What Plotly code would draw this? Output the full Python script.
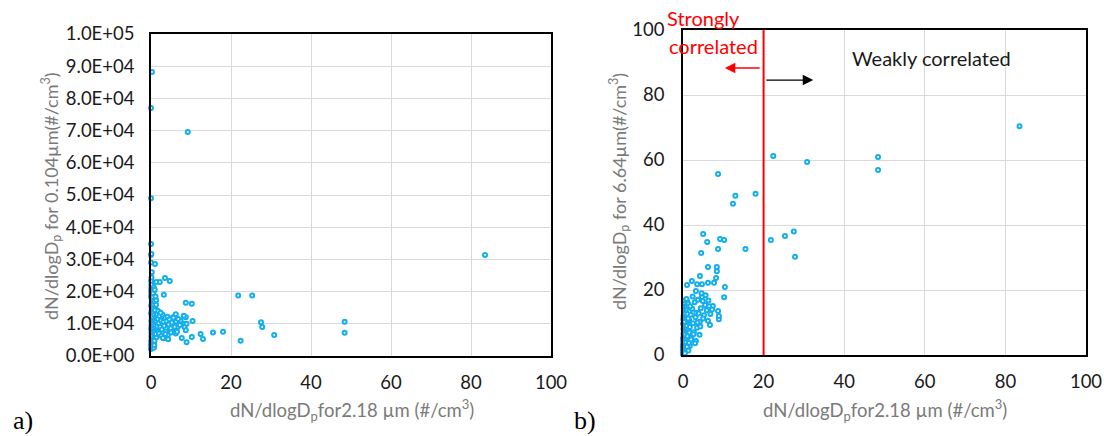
import plotly.graph_objects as go

# ---- data: dN/dlogDp for 2.18 um (shared x), 0.104 um (panel a), 6.64 um (panel b)
x_218 = [
    83.5, 48.4, 48.4, 30.8, 27.5, 27.8, 25.3, 22.4, 21.8, 18.0, 15.5, 12.4, 13.0,
    9.2, 10.2, 8.7, 10.4, 10.2, 7.7, 8.9, 5.0, 6.0, 8.7, 4.5, 6.2, 8.4, 8.4, 4.2,
    8.2, 6.2, 4.7, 3.5, 1.0, 2.2, 3.2, 4.7, 7.4, 6.5, 5.5, 8.7, 8.9, 6.2, 6.7,
    4.2, 3.2, 1.7,
    0.25, 0.00, 0.00, 0.00, 0.00, 0.10, 0.00, 0.20, 1.30,
    0.00, 0.02, 0.05, 0.08, 0.10, 0.03, 0.12, 0.06, 0.15, 0.01, 0.18, 0.04, 0.20,
    0.09, 0.22, 0.07, 0.14, 0.25, 0.11, 0.16, 0.24, 0.19, 0.27, 0.13, 0.29, 0.21,
    0.28, 0.17, 0.26, 0.23, 0.30, 0.02, 0.05, 0.10, 0.08, 0.03, 0.12, 0.06, 0.15,
    0.32, 0.35, 0.38, 0.40, 0.42, 0.45, 0.48, 0.50, 0.52, 0.55, 0.58, 0.60, 0.62,
    0.65, 0.68, 0.70, 0.72, 0.75, 0.78, 0.34, 0.44, 0.54, 0.64, 0.74, 0.36, 0.46,
    0.56, 0.66, 0.76, 0.39, 0.49, 0.59,
    0.82, 0.86, 0.90, 0.95, 1.00, 1.05, 1.10, 1.15, 1.20, 1.25, 1.30, 1.35, 1.40,
    1.45, 1.50, 1.55, 0.88, 0.98, 1.08, 1.18, 1.28, 1.38, 1.48, 1.58, 0.93, 1.12,
    1.7, 1.9, 2.1, 2.3, 2.5, 2.7, 2.9, 3.1, 3.3, 3.5, 3.7, 3.9, 4.1, 4.4, 4.6,
    4.9, 5.2, 5.6, 5.9, 6.3, 6.8, 7.2, 2.0, 2.6, 3.0, 3.6, 4.3, 5.0, 1.8, 2.4,
]
y_0104 = [
    31400, 10600, 7200, 6500, 10500, 9000, 18800, 4700, 18800, 7500, 7300, 6800, 5300,
    69600, 16200, 16500, 10900, 5900, 5600, 4300, 10500, 9500, 12000, 11000, 8000, 10000, 9000, 11500,
    12500, 7000, 23300, 24200, 28600, 23000, 19000, 8500, 11000, 7500, 12000, 8000, 10000, 13000, 9000,
    6500, 5500, 12000,
    88200, 77000, 49000, 34800, 31400, 31700, 29000, 26000, 23000,
    2200, 3500, 4800, 6000, 7200, 8400, 9600, 10800, 12000, 13200, 14400, 15600, 16800,
    18000, 19200, 20400, 21600, 22800, 2800, 4100, 5400, 6600, 7800, 9000, 10200, 11400,
    12600, 13800, 15000, 16200, 17400, 18600, 19800, 21000, 22200, 23400, 24400, 3100, 4500,
    3000, 4200, 5500, 6800, 8000, 9300, 10500, 11700, 12900, 14100, 15300, 16500, 17700,
    18900, 20100, 21300, 2600, 3800, 5000, 6200, 7400, 8700, 9900, 11100, 12300, 13500,
    14700, 15900, 17100, 18300, 19500, 4400,
    3300, 4700, 6100, 7500, 8900, 10300, 11700, 13100, 14500, 15900, 17300, 5800, 7200,
    8600, 10000, 11400, 12800, 14200, 9500, 6800, 12000, 10800, 13000, 9200, 20600, 18500,
    11600, 10200, 12400, 9000, 11000, 8200, 12800, 10600, 9400, 11800, 7600, 10900, 12200, 9800, 11300,
    8600, 10400, 11900, 9100, 10700, 11500, 9600, 7000, 6300, 5600, 6800, 5200, 7300, 14000, 13400,
]
y_664 = [
    70.4, 60.9, 56.9, 59.4, 38.0, 30.2, 36.6, 61.2, 35.4, 49.6, 32.6, 46.5, 49.0,
    35.7, 35.4, 55.7, 20.9, 17.8, 22.2, 11.0, 37.2, 34.8, 32.6, 31.4, 27.1, 27.1, 25.8, 24.3,
    23.7, 22.2, 21.8, 21.8, 21.5, 22.8, 19.7, 17.8, 15.1, 15.0, 15.4, 13.5, 12.0, 10.5, 9.2,
    10.2, 4.3, 2.8,
    1.5, 0.5, 2.0, 3.0, 1.0, 4.0, 2.5, 6.0, 14.0,
    0.3, 0.8, 1.5, 0.6, 2.2, 1.1, 3.0, 0.4, 2.6, 1.8, 4.0, 0.9, 3.4,
    5.0, 1.3, 4.6, 2.0, 5.8, 6.5, 3.8, 7.2, 2.8, 6.0, 8.0, 4.4, 7.6,
    9.0, 5.4, 8.6, 10.0, 6.8, 9.6, 1.0, 3.2, 11.0, 0.2, 2.4, 5.2, 12.0,
    1.2, 4.8, 8.4, 11.4, 13.0, 0.7, 3.6, 7.0, 10.6, 14.0, 2.2, 5.6, 9.2,
    12.4, 15.2, 1.6, 4.2, 7.8, 11.8, 16.0, 6.2, 9.8, 13.6, 2.8, 16.8, 0.5,
    8.8, 4.0, 14.6, 10.2, 6.4, 12.8,
    2.0, 5.0, 8.0, 11.0, 14.0, 16.4, 3.0, 6.6, 9.4, 12.2, 15.6, 1.4, 4.6,
    7.4, 10.8, 13.4, 17.2, 2.5, 5.8, 8.2, 11.2, 14.8, 3.8, 6.9, 9.0, 12.6,
    8.6, 12.4, 5.4, 14.2, 9.8, 7.0, 16.2, 11.6, 13.0, 8.4, 17.0, 12.8, 6.2, 14.4, 19.0,
    16.6, 12.2, 18.4, 13.8, 16.8, 12.6, 14.0, 4.8, 6.4, 3.6, 10.0, 8.8, 11.2, 15.0, 18.0,
]

x_ticks = [0, 20, 40, 60, 80, 100]
ya_ticks = [0, 10000, 20000, 30000, 40000, 50000, 60000, 70000, 80000, 90000, 100000]
ya_ticktext = ["0.0E+00", "1.0E+04", "2.0E+04", "3.0E+04", "4.0E+04", "5.0E+04",
               "6.0E+04", "7.0E+04", "8.0E+04", "9.0E+04", "1.0E+05"]
yb_ticks = [0, 20, 40, 60, 80, 100]
threshold = 20

W, H = 1104, 436
BLUE = "#12AEEE"
GRID = "#D9D9D9"
TICKFONT = dict(family="Lato", size=18.5, color="#1a1a1a")
TITLEFONT = dict(family="Lato", size=18.5, color="#7a7a7a")

marker = dict(symbol="circle", size=4, color="white", line=dict(color=BLUE, width=2))

fig = go.Figure()
fig.add_trace(go.Scatter(x=x_218, y=y_0104, mode="markers", marker=marker,
                         xaxis="x", yaxis="y", cliponaxis=False, showlegend=False))
fig.add_trace(go.Scatter(x=x_218, y=y_664, mode="markers", marker=marker,
                         xaxis="x2", yaxis="y2", cliponaxis=False, showlegend=False))

common = dict(showgrid=True, gridcolor=GRID, gridwidth=1.3, showline=True, mirror=True,
              linecolor="black", linewidth=1.6, zeroline=False, ticks="",
              tickfont=TICKFONT, automargin=False)

fig.update_layout(
    width=W, height=H, autosize=False,
    margin=dict(l=0, r=0, t=0, b=0, pad=0),
    paper_bgcolor="white", plot_bgcolor="white",
    xaxis=dict(domain=[151 / W, 551 / W], range=[0, 100], tickvals=x_ticks,
               ticklabelstandoff=9, anchor="y", **common),
    yaxis=dict(domain=[80 / H, 402 / H], range=[0, 100000], tickvals=ya_ticks,
               ticktext=ya_ticktext, ticklabelstandoff=11, anchor="x", **common),
    xaxis2=dict(domain=[683 / W, 1086 / W], range=[0, 100], tickvals=x_ticks,
                ticklabelstandoff=9, anchor="y2", **common),
    yaxis2=dict(domain=[81 / H, 406 / H], range=[0, 100], tickvals=yb_ticks,
                ticklabelstandoff=13, anchor="x2", **common),
)

# threshold line
fig.add_shape(type="line", xref="x2", yref="y2", x0=threshold, x1=threshold, y0=0, y1=100,
              line=dict(color="#FF0000", width=2), layer="above")

ann = []
xtitle = "dN/dlogD<sub>p</sub>for2.18 µm (#/cm<sup>3</sup>)"
ann.append(dict(text=xtitle, x=352 / W, y=1 - 410 / H, xref="paper", yref="paper",
                showarrow=False, font=TITLEFONT, xanchor="center", yanchor="middle"))
ann.append(dict(text=xtitle, x=885 / W, y=1 - 410 / H, xref="paper", yref="paper",
                showarrow=False, font=TITLEFONT, xanchor="center", yanchor="middle"))
ann.append(dict(text="dN/dlogD<sub>p</sub> for 0.104µm(#/cm<sup>3</sup>)", x=51 / W,
                y=1 - 196 / H, xref="paper", yref="paper", textangle=-90, showarrow=False,
                font=dict(family="Lato", size=18, color="#7a7a7a"),
                xanchor="center", yanchor="middle"))
ann.append(dict(text="dN/dlogD<sub>p</sub> for 6.64µm(#/cm<sup>3</sup>)", x=619 / W,
                y=1 - 192 / H, xref="paper", yref="paper", textangle=-90, showarrow=False,
                font=dict(family="Lato", size=18, color="#7a7a7a"),
                xanchor="center", yanchor="middle"))
ann.append(dict(text="a)", x=23 / W, y=1 - 420 / H, xref="paper", yref="paper",
                showarrow=False, font=dict(family="Liberation Serif", size=26, color="black"),
                xanchor="center", yanchor="middle"))
ann.append(dict(text="b)", x=585 / W, y=1 - 420 / H, xref="paper", yref="paper",
                showarrow=False, font=dict(family="Liberation Serif", size=26, color="black"),
                xanchor="center", yanchor="middle"))
ann.append(dict(text="Strongly", x=704 / W, y=1 - 18 / H, xref="paper", yref="paper",
                showarrow=False, font=dict(family="Lato", size=20, color="#FF0000"),
                xanchor="center", yanchor="middle"))
ann.append(dict(text="correlated", x=713 / W, y=1 - 46 / H, xref="paper", yref="paper",
                showarrow=False, font=dict(family="Lato", size=20, color="#FF0000"),
                xanchor="center", yanchor="middle"))
ann.append(dict(text="Weakly correlated", x=931 / W, y=1 - 58 / H, xref="paper", yref="paper",
                showarrow=False, font=dict(family="Lato", size=20, color="#1a1a1a"),
                xanchor="center", yanchor="middle"))
# arrows
ann.append(dict(text="", x=10.4, y=88.3, ax=19.4, ay=88.3, xref="x2", yref="y2",
                axref="x2", ayref="y2", showarrow=True, arrowhead=2, arrowsize=1.6,
                arrowwidth=1.3, arrowcolor="#FF0000"))
ann.append(dict(text="", x=32.3, y=84.6, ax=20.3, ay=84.6, xref="x2", yref="y2",
                axref="x2", ayref="y2", showarrow=True, arrowhead=2, arrowsize=1.6,
                arrowwidth=1.3, arrowcolor="black"))
fig.update_layout(annotations=ann)

fig.write_html("out.html",
               post_script="document.body.style.margin='0';"
                           "document.body.style.overflow='hidden';")
